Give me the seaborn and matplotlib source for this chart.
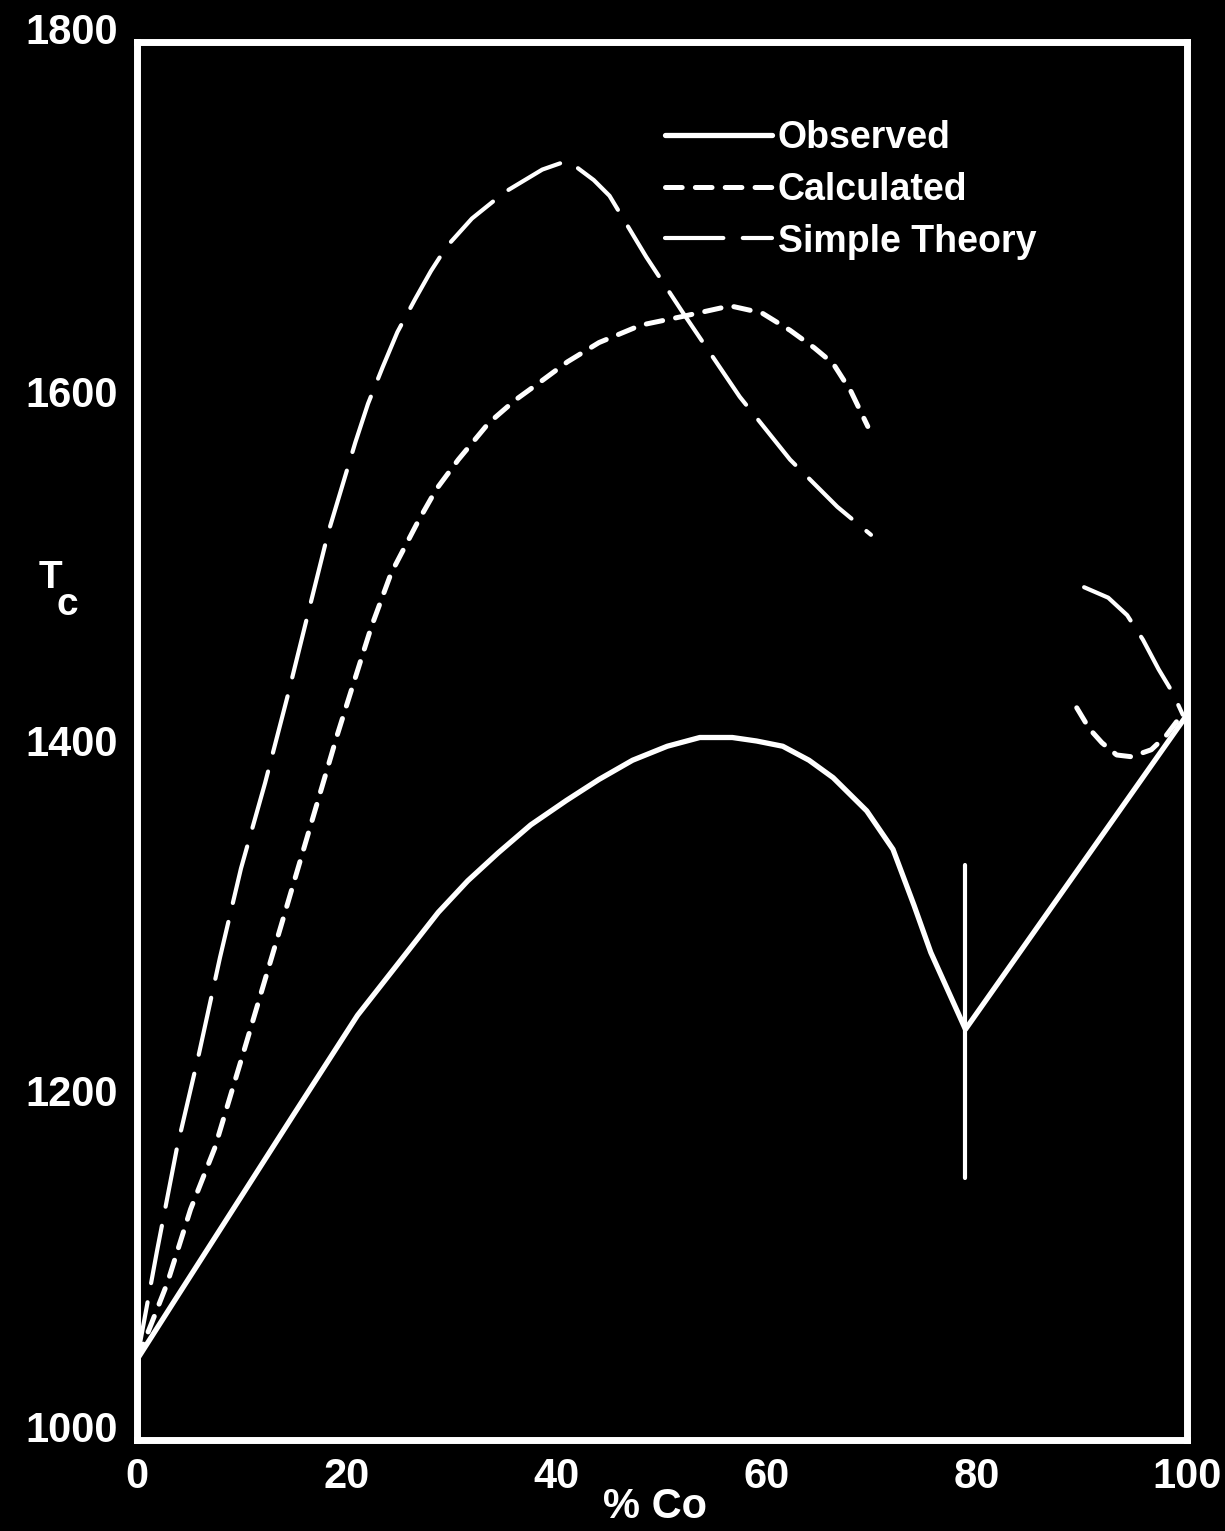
import matplotlib
matplotlib.use("Agg")
import matplotlib.pyplot as plt
import matplotlib.transforms as mtransforms
import seaborn as sns
from matplotlib.ticker import FixedLocator

# Curie temperature vs. cobalt content
obs_x = [0, 3.5, 10, 15, 21, 28.7, 31.5, 34.4, 37.5, 40.9, 44, 47.2, 50.5,
         53.6, 56.7, 59, 61.5, 64, 66.3, 69.5, 72, 74, 75.6, 78.9, 100]
obs_T = [1046, 1079, 1140, 1187, 1243, 1302, 1320, 1336, 1352, 1366, 1378,
         1389, 1397, 1402, 1402, 1400, 1397, 1389, 1379, 1360, 1338, 1306,
         1279, 1235, 1415]

# vertical bar at the fcc/hcp boundary
bar_x = [78.9, 78.9]
bar_T = [1329, 1150]

calc_x1 = [0, 1.4, 2.9, 5.1, 7.4, 10.2, 14.1, 19.1, 22.3, 24.2, 26.8, 28.5,
           30.6, 33.5, 36, 38.3, 41, 44, 48, 52, 56.5, 59.5, 62.2, 64.5, 66.3,
           68, 69.6]
calc_T1 = [1046, 1067, 1090, 1132, 1167, 1223, 1302, 1404, 1465, 1496, 1526,
           1544, 1561, 1582, 1595, 1605, 1617, 1628, 1638, 1643, 1649, 1645,
           1635, 1625, 1616, 1600, 1580]
calc_x2 = [89.5, 90.7, 91.9, 93.3, 94.7, 96.6, 98.0, 99.5]
calc_T2 = [1419, 1407, 1399, 1392, 1391, 1395, 1403, 1415]

simple_x1 = [0, 1.9, 3.8, 5.9, 7.9, 9.9, 12.2, 14.4, 16.5, 18.2, 20.8, 22,
             23.4, 24.8, 26.5, 28, 29.5, 31.9, 35, 38.6, 40.5, 41.5, 43.5, 45,
             46.5, 48.5, 52, 57.4, 62.2, 66.7, 69.9]
simple_T1 = [1046, 1108, 1167, 1221, 1276, 1327, 1376, 1427, 1478, 1519, 1571,
             1593, 1614, 1634, 1653, 1669, 1683, 1699, 1714, 1727, 1731, 1730,
             1721, 1712, 1697, 1677, 1645, 1597, 1561, 1534, 1518]
simple_x2 = [90.2, 92.5, 94.3, 95.8, 97.3, 98.6, 99.6]
simple_T2 = [1488, 1482, 1472, 1458, 1441, 1428, 1415]

series_labels = ["Observed", "Calculated", "Simple Theory"]
x_ticks = [0, 20, 40, 60, 80, 100]
y_major = [1000, 1200, 1400, 1600, 1800]
y_minor = [1100, 1300, 1500, 1700]

sns.set_style("dark", {"axes.facecolor": "black", "figure.facecolor": "black"})
plt.rcParams["font.family"] = ["Liberation Sans", "DejaVu Sans"]
plt.rcParams["lines.scale_dashes"] = False

fig = plt.figure(figsize=(12.25, 15.31), dpi=100, facecolor="black")
ax = fig.add_axes([137 / 1225, 1 - 1440 / 1531, 1050 / 1225, 1398 / 1531])
ax.set_facecolor("black")

common = dict(ax=ax, color="white", sort=False, estimator=None, legend=False)

sns.lineplot(x=obs_x, y=obs_T, linewidth=3.8, solid_capstyle="round",
             solid_joinstyle="round", **common)
h_obs = ax.lines[-1]
sns.lineplot(x=bar_x, y=bar_T, linewidth=3.0, solid_capstyle="round", **common)

calc_style = dict(linewidth=3.6, linestyle=(0, (12, 9.5)), dash_capstyle="round")
sns.lineplot(x=calc_x1, y=calc_T1, **calc_style, **common)
h_calc = ax.lines[-1]
sns.lineplot(x=calc_x2, y=calc_T2, **calc_style, **common)

simple_style = dict(linewidth=3.0, linestyle=(0, (42, 14)), dash_capstyle="round")
sns.lineplot(x=simple_x1, y=simple_T1, **simple_style, **common)
h_simple = ax.lines[-1]
sns.lineplot(x=simple_x2, y=simple_T2, **simple_style, **common)

ax.set_xlim(0, 100)
ax.set_ylim(1000, 1800)
ax.grid(False)

for side in ["left", "right", "top", "bottom"]:
    ax.spines[side].set_visible(True)
    ax.spines[side].set_color("white")
    ax.spines[side].set_linewidth(5)

ax.set_xticks(x_ticks)
ax.set_xticklabels([str(v) for v in x_ticks])
ax.set_yticks(y_major)
ax.set_yticklabels([str(v) for v in y_major])
ax.yaxis.set_minor_locator(FixedLocator(y_minor))

ax.tick_params(axis="x", which="major", direction="in", length=15, width=3,
               color="white", labelcolor="white", labelsize=30, pad=12)
ax.tick_params(axis="y", which="major", direction="in", length=16, width=3,
               color="white", labelcolor="white", labelsize=30, pad=14)
ax.tick_params(axis="y", which="minor", direction="in", length=9, width=3,
               color="white")
for lab in ax.get_xticklabels() + ax.get_yticklabels():
    lab.set_fontweight("bold")

# the end labels of the temperature axis sit a little above their ticks
ylabels = ax.get_yticklabels()
lift = mtransforms.ScaledTranslation(0, 0.14, fig.dpi_scale_trans)
for lab in (ylabels[0], ylabels[-1]):
    lab.set_transform(lab.get_transform() + lift)

ax.set_xlabel("% Co", fontsize=30, fontweight="bold", color="white", va="center")
ax.xaxis.set_label_coords(0.493, -0.048)
ax.set_ylabel("")

fig.text(50 / 1225, 1 - 578 / 1531, "T", fontsize=28, fontweight="bold",
         color="white", ha="center", va="center")
fig.text(67 / 1225, 1 - 605 / 1531, "c", fontsize=28, fontweight="bold",
         color="white", ha="center", va="center")

leg = ax.legend([h_obs, h_calc, h_simple], series_labels, loc="upper left",
                bbox_to_anchor=(665 / 1225, 1 - 120 / 1531),
                bbox_transform=fig.transFigure, frameon=False,
                handlelength=2.85, handletextpad=0.15, labelspacing=0.42,
                borderpad=0, borderaxespad=0, labelcolor="white",
                prop={"family": ["Liberation Sans", "DejaVu Sans"],
                      "weight": "bold", "size": 27})

fig.savefig("out.png", dpi=100, facecolor="black")
